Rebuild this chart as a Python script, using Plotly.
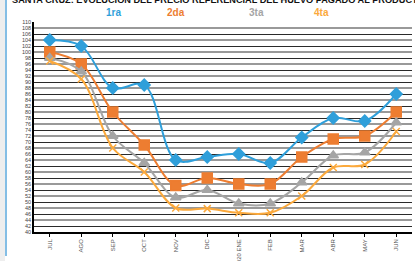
import plotly.graph_objects as go

months = ["JUL", "AGO", "SEP", "OCT", "NOV", "DIC", "2020 ENE", "FEB", "MAR", "ABR", "MAY", "JUN"]
s1 = [104, 102, 88, 89, 64, 65, 66, 63, 71.5, 78, 77, 86]
s2 = [100, 96, 80, 69, 55.5, 58, 56, 56, 65, 71, 72, 80]
s3 = [98, 93.5, 72, 63, 51.5, 54, 49.5, 49.5, 56.5, 65.5, 66.5, 76.5]
s4 = [97, 91, 68, 60, 48, 47.8, 46.4, 46.4, 52, 61.5, 62.5, 73.5]
names = ["1ra", "2da", "3ta", "4ta"]
title = "SANTA CRUZ: EVOLUCIÓN DEL PRECIO REFERENCIAL DEL HUEVO PAGADO AL PRODUCTOR"

colors = ["#2F9FDA", "#ED7D31", "#A5A5A5", "#FBA93C"]
symbols = ["diamond", "square", "triangle-up", "x-thin-open"]
sizes = [9, 10, 9, 7]

W, H = 415, 261
L, R, T, B = 34, 3, 22, 29

fig = go.Figure()
# invisible helper traces so the axes are drawn
fig.add_trace(go.Scatter(x=months, y=[None] * len(months), yaxis="y", showlegend=False, hoverinfo="skip"))
fig.add_trace(go.Scatter(x=months, y=[None] * len(months), yaxis="y2", showlegend=False, hoverinfo="skip"))
for name, vals, c, sym, sz in zip(names, [s1, s2, s3, s4], colors, symbols, sizes):
    fig.add_trace(go.Scatter(
        x=months, y=vals, name=name, yaxis="y3", mode="lines+markers",
        line=dict(color=c, width=2, shape="spline", smoothing=1),
        marker=dict(symbol=sym, size=sz, color=c, line=dict(color=c, width=1.5)),
        showlegend=False))

yr = [40, 110]
fig.update_layout(
    width=W, height=H, margin=dict(l=L, r=R, t=T, b=B),
    paper_bgcolor="white", plot_bgcolor="white",
    font=dict(family="Liberation Sans, Arial, sans-serif"),
    xaxis=dict(type="category", range=[-0.5, 11.5], tickangle=-90,
               tickfont=dict(size=6, color="#555"), showgrid=False,
               showline=True, linecolor="black", linewidth=1.5,
               ticks="outside", ticklen=3, tickcolor="black", fixedrange=True,
               automargin=False),
    yaxis=dict(range=yr, dtick=2, tick0=40, showgrid=False,
               tickfont=dict(size=5.5, color="#444"), showline=True, linecolor="black",
               linewidth=1.5, ticks="", zeroline=False, automargin=False),
    yaxis2=dict(range=yr, overlaying="y", dtick=4, tick0=40, showgrid=True,
                gridcolor="#999999", gridwidth=2, showticklabels=False, zeroline=False),
    yaxis3=dict(range=yr, overlaying="y", dtick=4, tick0=42, showgrid=True,
                gridcolor="#2a2a2a", gridwidth=1, showticklabels=False, zeroline=False),
)

pw = W - L - R
ph = H - T - B
def px(x):
    return (x - L) / pw
def py(y):
    return (H - B - y) / ph

# frame decoration at the left
fig.add_shape(type="rect", xref="paper", yref="paper", x0=px(0), x1=px(5), y0=py(H), y1=py(0),
              fillcolor="#eeeeee", line=dict(width=0), layer="below")
fig.add_shape(type="line", xref="paper", yref="paper", x0=px(6), x1=px(6), y0=py(0), y1=py(256),
              line=dict(color="#5BA8DC", width=1.5))

fig.add_annotation(text="<b>" + title + "</b>", xref="paper", yref="paper",
                   x=px(10), y=py(0), xanchor="left", yanchor="middle", showarrow=False,
                   font=dict(size=9.2, color="#111"))
legend_x = [113, 176, 256, 321]
for name, c, lx in zip(names, colors, legend_x):
    fig.add_annotation(text="<b>" + name + "</b>", xref="paper", yref="paper",
                       x=px(lx), y=py(13), xanchor="center", yanchor="middle", showarrow=False,
                       font=dict(size=10, color=c))

fig.write_html("out.html", config={"displayModeBar": False},
               post_script="document.body.style.margin='0';document.body.style.overflow='hidden';")
